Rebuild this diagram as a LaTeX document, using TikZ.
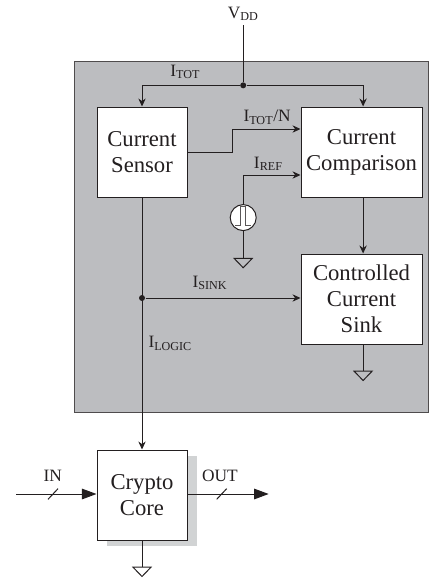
\documentclass[tikz,border=0pt]{standalone}
\usepackage{fontspec}
\setmainfont{Liberation Serif}
\usetikzlibrary{arrows.meta,positioning,calc}
\definecolor{panel-gray}{HTML}{BCBDC0}
\definecolor{shadow-gray}{HTML}{D1D3D4}
\definecolor{line-dark}{HTML}{231F20}
\newcommand{\sig}[1]{I\textsubscript{#1}}
\begin{document}
\begin{tikzpicture}[>={Stealth[length=6pt,width=5.5pt]}, line width=.75pt, color=line-dark,
	   blockbox/.style={draw, fill=white, minimum width=67.5pt, minimum height=67.5pt, inner sep=0pt, align=center, font=\fontsize{17}{19.5}\selectfont},
	   widebox/.style={blockbox, minimum width=90.75pt},
	   lab/.style={font=\fontsize{13}{15}\selectfont, inner sep=0pt},
	   junc/.style={circle, fill, inner sep=0pt, minimum size=4.5pt},
	   bus/.style={-{Triangle[length=11pt,width=8pt]}},
	   gnd/.pic={\draw (-6.75pt,0) -- (6.75pt,0) -- (0,-7pt) -- cycle;}]
	  \useasboundingbox (0,0) rectangle (321.75pt,-433.5pt);
	  \node[draw=line-dark!80, fill=panel-gray, minimum width=265.5pt, minimum height=263.25pt, inner sep=0pt] (panel) at (188.6pt,-178.1pt) {};
	  % blocks
	  \node[blockbox] (sensor) at (106.5pt,-114pt) {Current\\ Sensor};
	  \node[widebox, right=84.75pt of sensor] (comp) {Current\\ Comparison};
	  \node[widebox, below=42pt of comp] (sink) {Controlled\\ Current\\ Sink};
	  \node[fill=shadow-gray, minimum size=67.5pt, inner sep=0pt] (shadow) at (114pt,-376pt) {};
	  \node[blockbox, below=189pt of sensor] (core) {Crypto\\ Core};
	  % supply
	  \node[lab] (vdd) at (182.4pt,-10.5pt) {V\textsubscript{DD}};
	  \node[junc] (top) at (182.4pt,-64pt) {};
	  \draw ([yshift=-3pt]vdd.south) -- (top);
	  \draw[->] (top) -| (sensor.north);
	  \draw[->] (top) -| ([xshift=1.2pt]comp.north);
	  \node[lab, above left=2.5pt and 30pt of top] (itot) {\sig{TOT}};
	  % mirror output
	  \coordinate (mid) at (174pt,0);
	  \draw[->] (sensor.east) -- (sensor.east -| mid) |- ([yshift=17.25pt]comp.west);
	  \node[lab, above left=3pt and 7pt of {$(comp.west)+(0,17.25pt)$}] (itotn) {\sig{TOT}/N};
	  % reference pulse
	  \node[draw, fill=white, circle, minimum size=19.5pt, inner sep=0pt] (src) at (182.4pt,-163.2pt) {};
	  \draw[line-dark!75] ($(src)+(-6pt,-6pt)$) -- ++(4.2pt,0) -- ++(0,14pt) -- ++(3.6pt,0) -- ++(0,-14pt) -- ++(4.2pt,0);
	  \draw[->] (src.north) |- ([yshift=-17.25pt]comp.west);
	  \node[lab, above left=3pt and 13pt of {$(comp.west)+(0,-17.25pt)$}] (iref) {\sig{REF}};
	  \coordinate[below=20.5pt of src.south] (g1);
	  \draw (src.south) -- (g1);
	  \pic at (g1) {gnd};
	  % sink branch
	  \draw[->] ([xshift=1.2pt]comp.south) -- ([xshift=1.2pt]sink.north);
	  \node[junc] (branch) at (106.5pt,-223.5pt) {};
	  \draw[->] (branch) -- (branch -| sink.west);
	  \node[lab, above=3pt of branch, xshift=51pt] (isink) {\sig{SINK}};
	  \coordinate (g2) at ($(sink.south)+(1.2pt,-20pt)$);
	  \draw ([xshift=1.2pt]sink.south) -- (g2);
	  \pic at (g2) {gnd};
	  % logic supply
	  \draw[->] (sensor) -- (core);
	  \node[lab, anchor=west] (ilogic) at (111pt,-257.5pt) {\sig{LOGIC}};
	  % crypto core
	  \coordinate[below=20pt of core.south] (g3);
	  \draw (core.south) -- (g3);
	  \pic at (g3) {gnd};
	  \coordinate (inp) at (12pt,-370.5pt);
	  \coordinate (outp) at (201.5pt,-370.5pt);
	  \draw[bus] (inp) -- (inp -| core.west);
	  \draw[bus] (core.east |- outp) -- (outp);
	  \node[lab] (in) at (39.5pt,-357pt) {IN};
	  \node[lab] (out) at (165pt,-357pt) {OUT};
	  \draw ($(inp)+(24pt,-4pt)$) -- ++(7.5pt,8pt);
	  \draw ($(outp)+(-39pt,-4pt)$) -- ++(7.5pt,8pt);
	\end{tikzpicture}
\end{document}
